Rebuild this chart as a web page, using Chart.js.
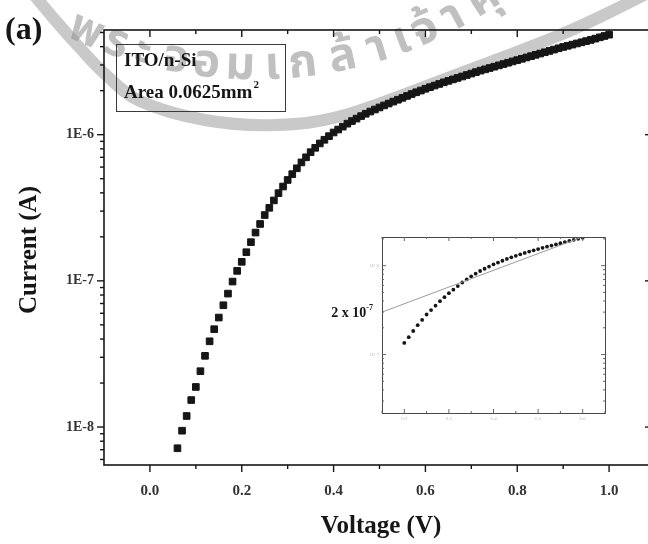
<!DOCTYPE html>
<html>
<head>
<meta charset="utf-8">
<script src="https://cdn.jsdelivr.net/npm/chart.js@4/dist/chart.umd.min.js"></script>
<style>
  html, body { margin: 0; padding: 0; background: #fff; overflow: hidden; width: 648px; height: 544px; }
  #wrap { position: relative; width: 670px; height: 544px; }
  #main { position: absolute; left: 0; top: 0; }
  #inset { position: absolute; left: 320px; top: 228px; }
</style>
</head>
<body>
<div id="wrap">
  <canvas id="main" width="670" height="544"></canvas>
  <canvas id="inset" width="300" height="200"></canvas>
</div>
<script>
// Forward I-V sweep of the ITO/n-Si diode (V in volts, I in amperes)
const voltage = [
  0.06, 0.07, 0.08, 0.09, 0.10, 0.11, 0.12, 0.13, 0.14, 0.15,
  0.16, 0.17, 0.18, 0.19, 0.20, 0.21, 0.22, 0.23, 0.24, 0.25,
  0.26, 0.27, 0.28, 0.29, 0.30, 0.31, 0.32, 0.33, 0.34, 0.35,
  0.36, 0.37, 0.38, 0.39, 0.40, 0.41, 0.42, 0.43, 0.44, 0.45,
  0.46, 0.47, 0.48, 0.49, 0.50, 0.51, 0.52, 0.53, 0.54, 0.55,
  0.56, 0.57, 0.58, 0.59, 0.60, 0.61, 0.62, 0.63, 0.64, 0.65,
  0.66, 0.67, 0.68, 0.69, 0.70, 0.71, 0.72, 0.73, 0.74, 0.75,
  0.76, 0.77, 0.78, 0.79, 0.80, 0.81, 0.82, 0.83, 0.84, 0.85,
  0.86, 0.87, 0.88, 0.89, 0.90, 0.91, 0.92, 0.93, 0.94, 0.95,
  0.96, 0.97, 0.98, 0.99, 1.00
];
const current = [
  7.16e-9, 9.44e-9, 1.19e-8, 1.53e-8, 1.88e-8, 2.41e-8, 3.07e-8, 3.86e-8, 4.67e-8, 5.61e-8,
  6.81e-8, 8.18e-8, 9.89e-8, 1.17e-7, 1.35e-7, 1.57e-7, 1.84e-7, 2.14e-7, 2.45e-7, 2.82e-7,
  3.16e-7, 3.55e-7, 3.98e-7, 4.42e-7, 4.90e-7, 5.37e-7, 5.89e-7, 6.46e-7, 7.00e-7, 7.59e-7,
  8.13e-7, 8.71e-7, 9.23e-7, 9.77e-7, 1.035e-6, 1.084e-6, 1.135e-6, 1.189e-6, 1.239e-6, 1.288e-6,
  1.340e-6, 1.390e-6, 1.439e-6, 1.486e-6, 1.535e-6, 1.585e-6, 1.633e-6, 1.683e-6, 1.734e-6, 1.786e-6,
  1.841e-6, 1.897e-6, 1.950e-6, 2.004e-6, 2.061e-6, 2.113e-6, 2.168e-6, 2.223e-6, 2.280e-6, 2.333e-6,
  2.388e-6, 2.443e-6, 2.500e-6, 2.559e-6, 2.618e-6, 2.679e-6, 2.742e-6, 2.799e-6, 2.858e-6, 2.917e-6,
  2.979e-6, 3.041e-6, 3.105e-6, 3.170e-6, 3.236e-6, 3.304e-6, 3.373e-6, 3.443e-6, 3.516e-6, 3.589e-6,
  3.664e-6, 3.741e-6, 3.819e-6, 3.899e-6, 3.981e-6, 4.055e-6, 4.130e-6, 4.207e-6, 4.285e-6, 4.365e-6,
  4.446e-6, 4.539e-6, 4.634e-6, 4.732e-6, 4.831e-6
];

// Main axes
const xTickValues = [0.0, 0.2, 0.4, 0.6, 0.8, 1.0];
const xMinorValues = [0.1, 0.3, 0.5, 0.7, 0.9];
const yTickValues = [1e-8, 1e-7, 1e-6];
const yTickLabels = ['1E-8', '1E-7', '1E-6'];

// Inset: the 0.2-0.6 V part with the straight-line fit
const insetRange = [0.2, 0.6];
const insetXTicks = [0.2, 0.3, 0.4, 0.5, 0.6];
const insetXMinor = [0.15, 0.25, 0.35, 0.45, 0.55, 0.65];
const insetYTicks = [1e-7, 1e-6];
const insetYLabels = ['1E-7', '1E-6'];
const fitVoltage = [0.15, 0.61];
const fitCurrent = [3.0e-7, 2.2e-6];

// Annotations
const panelTag = '(a)';
const sampleLines = ['ITO/n-Si', 'Area 0.0625mm'];
const xTitle = 'Voltage (V)';
const yTitle = 'Current (A)';
const interceptText = ['2 x 10', '-7'];

// Institution seal printed faintly behind the figure
const sealGlyphs = ['พ', 'ร', 'ะ', 'จ', 'อ', 'ม', 'เ', 'ก', 'ล้', 'า', 'เ', 'จ้', 'า', 'คุ'];
const sealAngles = [-23.6, -19.2, -15.4, -10.8, -6.6, -2.0, 2.4, 6.5, 12.0, 16.8, 20.4, 23.8, 28.0, 32.8];
const sealRing = [[30, -10], [55, 20], [80, 48], [105, 74], [140, 101], [205, 120], [275, 125],
                  [345, 115], [450, 77], [555, 37], [610, 12], [650, -8]];

const SERIF = '"Liberation Serif", "Times New Roman", serif';
const INK = '#161616';

function line(ctx, x1, y1, x2, y2) {
  ctx.beginPath(); ctx.moveTo(x1, y1); ctx.lineTo(x2, y2); ctx.stroke();
}

function logMinors(min, max) {
  const out = [];
  for (let e = Math.floor(Math.log10(min)); e <= Math.ceil(Math.log10(max)); e++) {
    for (let k = 2; k <= 9; k++) {
      const v = k * Math.pow(10, e);
      if (v > min && v < max) out.push(v);
    }
  }
  return out;
}

// smooth path through the ring points (Catmull-Rom as cubic Beziers)
function smoothPath(ctx, pts) {
  ctx.beginPath();
  ctx.moveTo(pts[0][0], pts[0][1]);
  for (let i = 0; i < pts.length - 1; i++) {
    const p0 = pts[Math.max(0, i - 1)], p1 = pts[i], p2 = pts[i + 1], p3 = pts[Math.min(pts.length - 1, i + 2)];
    ctx.bezierCurveTo(p1[0] + (p2[0] - p0[0]) / 6, p1[1] + (p2[1] - p0[1]) / 6,
                      p2[0] - (p3[0] - p1[0]) / 6, p2[1] - (p3[1] - p1[1]) / 6,
                      p2[0], p2[1]);
  }
}

function drawSeal(ctx) {
  ctx.save();
  ctx.strokeStyle = 'rgba(165,165,165,0.6)';
  ctx.lineWidth = 12;
  ctx.lineCap = 'round';
  smoothPath(ctx, sealRing);
  ctx.stroke();
  const cx = 255, cy = -355, r = 425;
  ctx.fillStyle = 'rgba(150,150,150,0.6)';
  ctx.font = 'bold 46px "Noto Sans Thai", "Loma", "Garuda", "DejaVu Sans", sans-serif';
  ctx.textAlign = 'center';
  ctx.textBaseline = 'middle';
  sealGlyphs.forEach((g, i) => {
    const a = sealAngles[i] * Math.PI / 180;
    ctx.save();
    ctx.translate(cx + r * Math.sin(a), cy + r * Math.cos(a));
    ctx.rotate(-a);
    ctx.fillText(g, 0, 0);
    ctx.restore();
  });
  ctx.restore();
}

const mainDecor = {
  id: 'mainDecor',
  beforeDraw(chart) {
    const ctx = chart.ctx;
    ctx.save();
    ctx.fillStyle = '#fff';
    ctx.fillRect(0, 0, chart.width, chart.height);
    ctx.restore();
    drawSeal(ctx);
  },
  afterDatasetsDraw(chart) {
    const ctx = chart.ctx;
    const { left, right, top, bottom } = chart.chartArea;
    const xs = chart.scales.x, ys = chart.scales.y;
    ctx.save();
    ctx.strokeStyle = INK;
    ctx.lineWidth = 1.6;
    ctx.strokeRect(left, top, right - left, bottom - top);
    ctx.lineWidth = 1.4;
    xTickValues.forEach(v => {
      const px = xs.getPixelForValue(v);
      line(ctx, px, bottom, px, bottom + 7);
      line(ctx, px, top, px, top + 7);
    });
    xMinorValues.forEach(v => {
      const px = xs.getPixelForValue(v);
      line(ctx, px, bottom, px, bottom + 4);
      line(ctx, px, top, px, top + 4);
    });
    yTickValues.forEach(v => {
      const py = ys.getPixelForValue(v);
      line(ctx, left, py, left - 7, py);
      line(ctx, right, py, right - 10, py);
    });
    logMinors(ys.min, ys.max).forEach(v => {
      const py = ys.getPixelForValue(v);
      line(ctx, left, py, left - 4, py);
      line(ctx, right, py, right - 5, py);
    });

    // sample box
    ctx.lineWidth = 1;
    ctx.strokeStyle = '#3a3a3a';
    ctx.strokeRect(116.5, 44.5, 169, 67);
    ctx.fillStyle = INK;
    ctx.textAlign = 'left';
    ctx.textBaseline = 'alphabetic';
    ctx.font = 'bold 19px ' + SERIF;
    ctx.fillText(sampleLines[0], 124, 66);
    ctx.fillText(sampleLines[1], 124, 98);
    const w = ctx.measureText(sampleLines[1]).width;
    ctx.font = 'bold 11px ' + SERIF;
    ctx.fillText('2', 124 + w + 1, 88);

    // panel tag and axis titles
    ctx.font = 'bold 32px ' + SERIF;
    ctx.fillText(panelTag, 5, 39);
    ctx.font = 'bold 25px ' + SERIF;
    ctx.textAlign = 'center';
    ctx.textBaseline = 'middle';
    ctx.fillText(xTitle, 381, 527);
    ctx.save();
    ctx.translate(30, 250);
    ctx.rotate(-Math.PI / 2);
    ctx.fillText(yTitle, 0, 0);
    ctx.restore();
    ctx.restore();
  }
};

new Chart(document.getElementById('main'), {
  type: 'scatter',
  data: {
    datasets: [{
      data: voltage.map((v, i) => ({ x: v, y: current[i] })),
      pointStyle: 'rect',
      pointRadius: 4.7,
      pointBackgroundColor: INK,
      pointBorderColor: INK,
      pointBorderWidth: 1,
      showLine: false
    }]
  },
  options: {
    responsive: false,
    animation: false,
    events: [],
    layout: { padding: { left: 0, top: 30, right: 15, bottom: 0 } },
    plugins: { legend: { display: false }, tooltip: { enabled: false } },
    scales: {
      x: {
        type: 'linear', min: -0.1, max: 1.1,
        afterBuildTicks: s => { s.ticks = xTickValues.map(v => ({ value: v })); },
        afterFit: s => { s.height = 79; },
        grid: { display: false, drawTicks: false },
        border: { display: false },
        ticks: {
          padding: 17, color: '#333', autoSkip: false, maxRotation: 0,
          font: { family: SERIF, size: 15, weight: 'bold' },
          callback: v => Number(v).toFixed(1)
        }
      },
      y: {
        type: 'logarithmic', min: 5.5e-9, max: 5.2e-6,
        afterBuildTicks: s => { s.ticks = yTickValues.map(v => ({ value: v })); },
        afterFit: s => { s.width = 104; },
        grid: { display: false, drawTicks: false },
        border: { display: false },
        ticks: {
          padding: 10, color: '#333', autoSkip: false,
          font: { family: SERIF, size: 14, weight: 'bold' },
          callback: (v, i) => yTickLabels[i]
        }
      }
    }
  },
  plugins: [mainDecor]
});

// Inset
const inInset = v => v >= insetRange[0] - 1e-9 && v <= insetRange[1] + 1e-9;
const insetV = voltage.filter(inInset);
const insetI = current.filter((c, i) => inInset(voltage[i]));

const insetDecor = {
  id: 'insetDecor',
  afterDatasetsDraw(chart) {
    const ctx = chart.ctx;
    const { left, right, top, bottom } = chart.chartArea;
    const xs = chart.scales.x, ys = chart.scales.y;
    ctx.save();
    ctx.strokeStyle = '#4a4a4a';
    ctx.lineWidth = 1;
    ctx.strokeRect(left + 0.5, top + 0.5, right - left, bottom - top);
    ctx.strokeStyle = '#666';
    insetXTicks.forEach(v => {
      const px = xs.getPixelForValue(v);
      line(ctx, px, bottom, px, bottom - 4);
      line(ctx, px, top, px, top + 4);
    });
    insetXMinor.forEach(v => {
      const px = xs.getPixelForValue(v);
      line(ctx, px, bottom, px, bottom - 2);
      line(ctx, px, top, px, top + 2);
    });
    insetYTicks.forEach(v => {
      const py = ys.getPixelForValue(v);
      line(ctx, left, py, left + 4, py);
      line(ctx, right, py, right - 4, py);
    });
    logMinors(ys.min, ys.max).forEach(v => {
      const py = ys.getPixelForValue(v);
      line(ctx, left, py, left + 2, py);
      line(ctx, right, py, right - 2, py);
    });
    // intercept of the fit
    ctx.fillStyle = INK;
    ctx.textBaseline = 'middle';
    ctx.textAlign = 'right';
    ctx.font = 'bold 8px ' + SERIF;
    const supW = ctx.measureText(interceptText[1]).width;
    ctx.fillText(interceptText[1], 53, 80);
    ctx.font = 'bold 14px ' + SERIF;
    ctx.fillText(interceptText[0], 53 - supW, 85);
    ctx.restore();
  }
};

new Chart(document.getElementById('inset'), {
  type: 'scatter',
  data: {
    datasets: [
      {
        data: fitVoltage.map((v, i) => ({ x: v, y: fitCurrent[i] })),
        showLine: true, borderColor: '#9a9a9a', borderWidth: 1,
        pointRadius: 0, fill: false
      },
      {
        data: insetV.map((v, i) => ({ x: v, y: insetI[i] })),
        pointStyle: 'circle', pointRadius: 1.9,
        pointBackgroundColor: INK, pointBorderWidth: 0, showLine: false
      }
    ]
  },
  options: {
    responsive: false,
    animation: false,
    events: [],
    layout: { padding: { left: 0, top: 9, right: 15, bottom: 0 } },
    plugins: { legend: { display: false }, tooltip: { enabled: false } },
    scales: {
      x: {
        type: 'linear', min: 0.15, max: 0.65,
        afterBuildTicks: s => { s.ticks = insetXTicks.map(v => ({ value: v })); },
        afterFit: s => { s.height = 15; },
        grid: { display: false, drawTicks: false },
        border: { display: false },
        ticks: { padding: 3, color: '#b8b8b8', autoSkip: false, maxRotation: 0,
          font: { family: SERIF, size: 5 }, callback: v => Number(v).toFixed(1) }
      },
      y: {
        type: 'logarithmic', min: 2.2e-8, max: 2.1e-6,
        afterBuildTicks: s => { s.ticks = insetYTicks.map(v => ({ value: v })); },
        afterFit: s => { s.width = 62; },
        grid: { display: false, drawTicks: false },
        border: { display: false },
        ticks: { padding: 3, color: '#b8b8b8', autoSkip: false,
          font: { family: SERIF, size: 5 }, callback: (v, i) => insetYLabels[i] }
      }
    }
  },
  plugins: [insetDecor]
});
</script>
</body>
</html>
